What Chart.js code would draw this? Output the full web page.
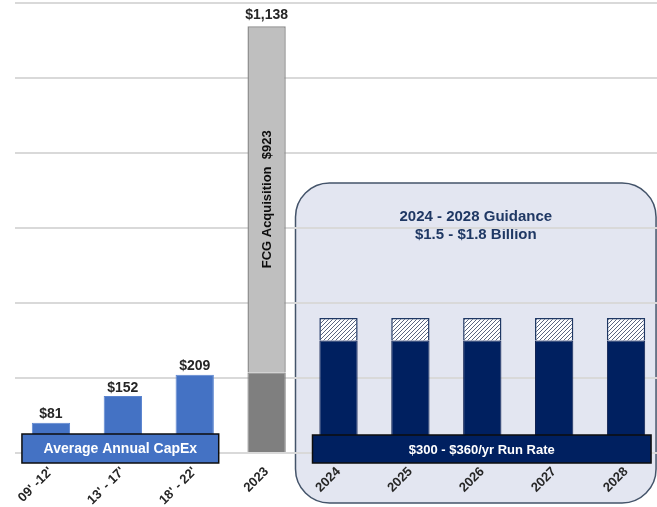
<!DOCTYPE html>
<html>
<head>
<meta charset="utf-8">
<script src="https://cdn.jsdelivr.net/npm/chart.js@4.4.1/dist/chart.umd.min.js"></script>
<style>
  html, body { margin: 0; padding: 0; background: #fff; overflow: hidden; }
  #wrap { width: 662px; height: 507px; }
</style>
</head>
<body>
<div id="wrap"><canvas id="capexChart"></canvas></div>
<script>
// periods on the x axis
const categories = ["09' -12'", "13' - 17'", "18' - 22'", "2023", "2024", "2025", "2026", "2027", "2028"];

// $ millions
const avgCapex      = [81, 152, 209, null, null, null, null, null, null];
const otherCapex    = [null, null, null, 215, null, null, null, null, null];
const fcgAcq        = [null, null, null, 923, null, null, null, null, null];
const runRateLow    = [null, null, null, null, 300, 300, 300, 300, 300];
const runRateUpside = [null, null, null, null, 60, 60, 60, 60, 60];

const yTicks = [0, 200, 400, 600, 800, 1000, 1200];

const NAVY = "#002060";
const FONT = "'Liberation Sans', Arial, sans-serif";

// diagonal hatch for the upper end of the guidance range
function hatchPattern() {
  const c = document.createElement("canvas");
  c.width = 4; c.height = 4;
  const g = c.getContext("2d");
  g.fillStyle = "#ffffff";
  g.fillRect(0, 0, 4, 4);
  g.strokeStyle = "#5a6580";
  g.lineWidth = 1;
  g.beginPath();
  g.moveTo(-1, 5); g.lineTo(5, -1);
  g.moveTo(-1, 1); g.lineTo(1, -1);
  g.moveTo(3, 5); g.lineTo(5, 3);
  g.stroke();
  return g.createPattern(c, "repeat");
}

const money = v => "$" + v.toLocaleString("en-US");

function roundRect(ctx, x, y, w, h, r) {
  ctx.beginPath();
  ctx.moveTo(x + r, y);
  ctx.lineTo(x + w - r, y);
  ctx.arcTo(x + w, y, x + w, y + r, r);
  ctx.lineTo(x + w, y + h - r);
  ctx.arcTo(x + w, y + h, x + w - r, y + h, r);
  ctx.lineTo(x + r, y + h);
  ctx.arcTo(x, y + h, x, y + h - r, r);
  ctx.lineTo(x, y + r);
  ctx.arcTo(x, y, x + r, y, r);
  ctx.closePath();
}

function labelBox(ctx, x1, x2, yTop, h, fill, text, size) {
  ctx.fillStyle = fill;
  ctx.fillRect(x1, yTop, x2 - x1, h);
  ctx.strokeStyle = "#0d0d0d";
  ctx.lineWidth = 1.5;
  ctx.strokeRect(x1, yTop, x2 - x1, h);
  ctx.fillStyle = "#ffffff";
  ctx.font = "bold " + size + "px " + FONT;
  ctx.textAlign = "center";
  ctx.textBaseline = "middle";
  ctx.fillText(text, (x1 + x2) / 2, yTop + h / 2 + 1);
}

// guidance panel, drawn first so grid and tick labels sit on top of it
const panelPlugin = {
  id: "panel",
  beforeDraw(chart) {
    const ctx = chart.ctx, x = chart.scales.x, y = chart.scales.y;
    const left = x.getPixelForValue(4) - 43;
    const right = x.getPixelForValue(8) + 30;
    const top = y.getPixelForValue(720);
    const bottom = y.getPixelForValue(0) + 50;
    ctx.save();
    roundRect(ctx, left, top, right - left, bottom - top, 34);
    ctx.fillStyle = "#e3e6f1";
    ctx.fill();
    ctx.strokeStyle = "#44546a";
    ctx.lineWidth = 1.5;
    ctx.stroke();
    ctx.fillStyle = "#1f3864";
    ctx.font = "bold 15px " + FONT;
    ctx.textAlign = "center";
    ctx.textBaseline = "middle";
    const cx = (left + right) / 2;
    ctx.fillText("2024 - 2028 Guidance", cx, top + 34);
    ctx.fillText("$1.5 - $1.8 Billion", cx, top + 52);
    ctx.restore();
  }
};

// value labels and the two banner boxes
const labelPlugin = {
  id: "labels",
  afterDatasetsDraw(chart) {
    const ctx = chart.ctx, x = chart.scales.x, y = chart.scales.y;
    ctx.save();
    ctx.fillStyle = "#262626";
    ctx.font = "bold 14px " + FONT;
    ctx.textAlign = "center";
    ctx.textBaseline = "bottom";
    avgCapex.forEach((v, i) => {
      if (v == null) return;
      ctx.fillText(money(v), x.getPixelForValue(i), y.getPixelForValue(v) - 1);
    });
    categories.forEach((c, i) => {
      if (fcgAcq[i] == null) return;
      const total = otherCapex[i] + fcgAcq[i];
      ctx.fillStyle = "#262626";
      ctx.font = "bold 14px " + FONT;
      ctx.textAlign = "center";
      ctx.textBaseline = "bottom";
      ctx.fillText(money(total), x.getPixelForValue(i), y.getPixelForValue(total) - 4);
      // rotated label in the acquisition segment
      const mid = y.getPixelForValue(otherCapex[i] + fcgAcq[i] / 2);
      ctx.save();
      ctx.translate(x.getPixelForValue(i) + 1, mid);
      ctx.rotate(-Math.PI / 2);
      ctx.fillStyle = "#0d0d0d";
      ctx.font = "bold 13px " + FONT;
      ctx.textBaseline = "middle";
      ctx.fillText("FCG Acquisition  " + money(fcgAcq[i]), 0, 0);
      ctx.restore();
    });

    const base = y.getPixelForValue(0);
    labelBox(ctx, x.getPixelForValue(0) - 29, x.getPixelForValue(2) + 24, base - 19, 29,
      "#4472c4", "Average Annual CapEx", 14);
    labelBox(ctx, x.getPixelForValue(4) - 26, x.getPixelForValue(8) + 25, base - 18, 28,
      NAVY, "$300 - $360/yr Run Rate", 13);
    ctx.restore();
  }
};

const barOpts = { barPercentage: 0.74, categoryPercentage: 0.72 };

new Chart(document.getElementById("capexChart"), {
  type: "bar",
  data: {
    labels: categories,
    datasets: [
      Object.assign({ label: "Average Annual CapEx", data: avgCapex,
        backgroundColor: "#4472c4", borderColor: "#5b85d0", borderWidth: 1 }, barOpts),
      Object.assign({ label: "Other", data: otherCapex,
        backgroundColor: "#7f7f7f", borderColor: "#7f7f7f", borderWidth: 1 }, barOpts),
      Object.assign({ label: "FCG Acquisition", data: fcgAcq,
        backgroundColor: "#bfbfbf", borderColor: "#8c8c8c", borderWidth: 1.5 }, barOpts),
      Object.assign({ label: "Run Rate", data: runRateLow,
        backgroundColor: NAVY, borderColor: "#0d1f4f", borderWidth: 1 }, barOpts),
      Object.assign({ label: "Upside", data: runRateUpside,
        backgroundColor: hatchPattern(), borderColor: "#1f3864", borderWidth: 1.5 }, barOpts)
    ]
  },
  options: {
    responsive: true,
    maintainAspectRatio: false,
    animation: false,
    layout: { padding: { top: 3, right: 0, left: 0, bottom: 0 } },
    plugins: {
      legend: { display: false },
      tooltip: { enabled: false }
    },
    scales: {
      x: {
        stacked: true,
        grid: { display: false },
        border: { display: false },
        ticks: {
          autoSkip: false,
          maxRotation: 45,
          minRotation: 45,
          padding: 3,
          color: "#262626",
          font: { family: FONT, size: 13, weight: "bold" }
        },
        afterFit(scale) { scale.height = 54; }
      },
      y: {
        stacked: true,
        min: 0,
        max: 1200,
        afterBuildTicks(scale) { scale.ticks = yTicks.map(v => ({ value: v })); },
        grid: { color: "#d9d9d9", lineWidth: 2, drawTicks: false },
        border: { display: false },
        ticks: { display: false },
        afterFit(scale) { scale.width = 15; }
      }
    }
  },
  plugins: [panelPlugin, labelPlugin]
});
</script>
</body>
</html>
